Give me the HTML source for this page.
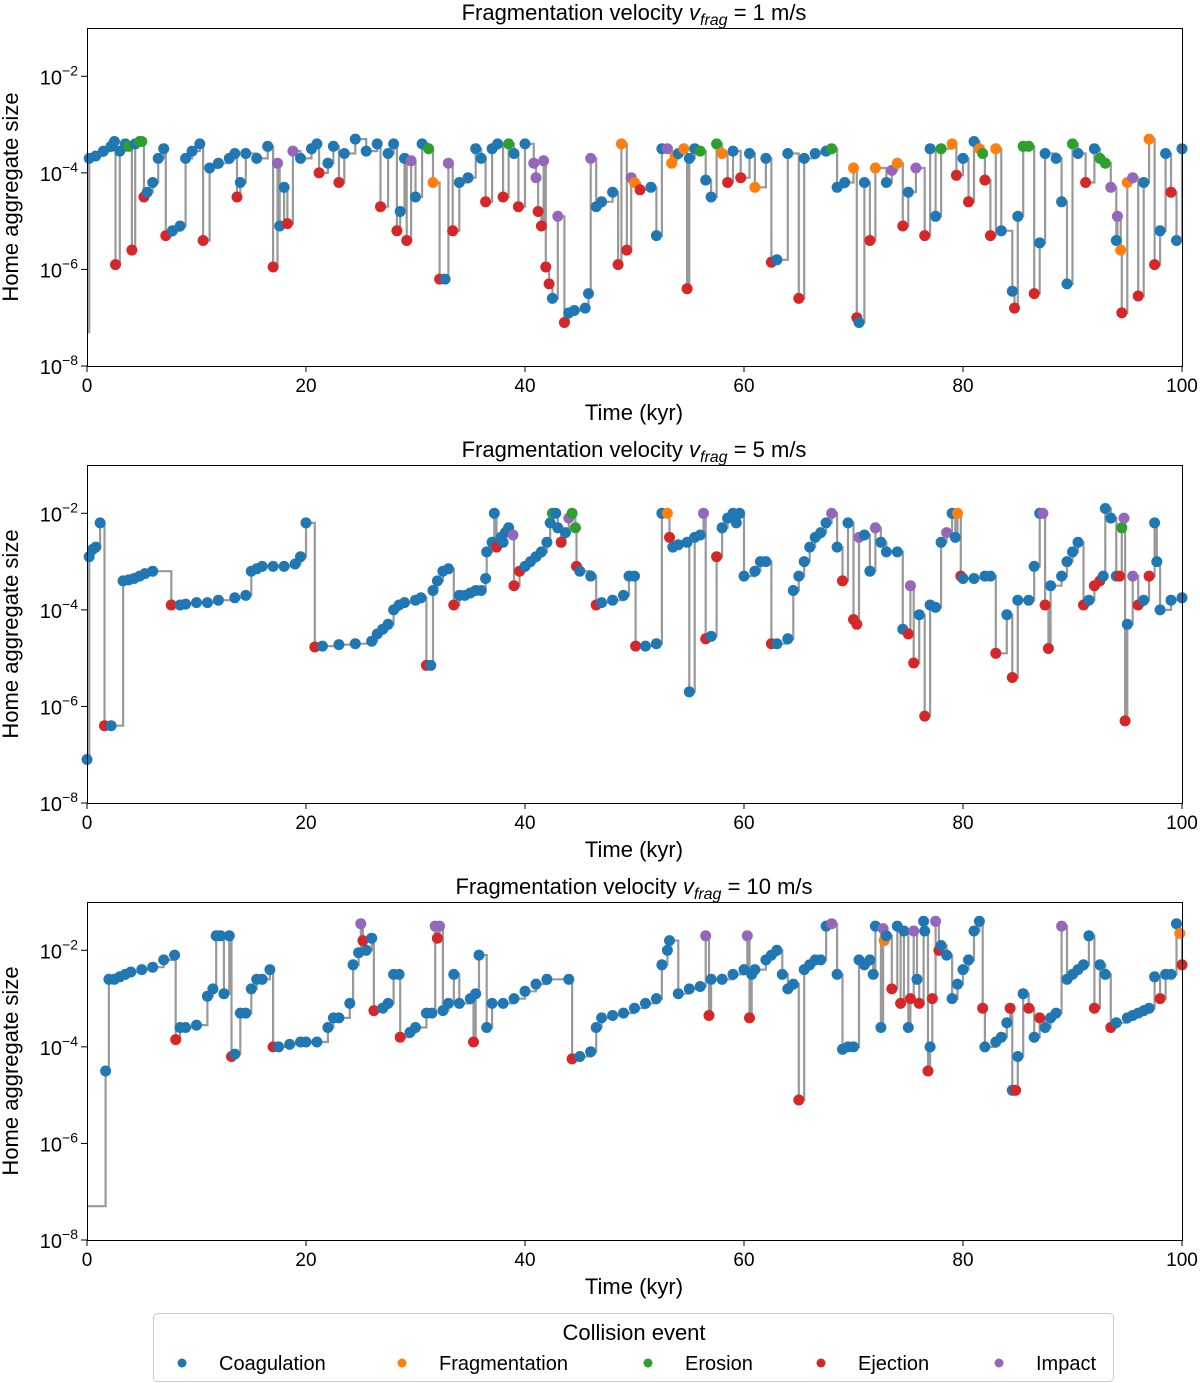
<!DOCTYPE html>
<html><head><meta charset="utf-8"><style>
body{margin:0;background:#fff;}
svg{display:block;font-family:"Liberation Sans","DejaVu Sans",sans-serif;}
</style></head><body>
<svg id="chart" width="1200" height="1383" viewBox="0 0 1200 1383" xmlns="http://www.w3.org/2000/svg">
<g id="legend">
<rect x="153.5" y="1313.5" width="960" height="68" rx="4" fill="#fff" stroke="#ccc" stroke-width="1"/>
<text x="634" y="1340" text-anchor="middle" font-size="22">Collision event</text>
<g><circle cx="182" cy="1363" r="4.5" fill="#1f77b4"/><text x="219" y="1370" font-size="20">Coagulation</text></g>
<g><circle cx="402" cy="1363" r="4.5" fill="#ff7f0e"/><text x="439" y="1370" font-size="20">Fragmentation</text></g>
<g><circle cx="648" cy="1363" r="4.5" fill="#2ca02c"/><text x="685" y="1370" font-size="20">Erosion</text></g>
<g><circle cx="821" cy="1363" r="4.5" fill="#d62728"/><text x="858" y="1370" font-size="20">Ejection</text></g>
<g><circle cx="999" cy="1363" r="4.5" fill="#9467bd"/><text x="1036" y="1370" font-size="20">Impact</text></g>
</g>
</svg>
<script>
// each point: [time kyr, log10 size, event]  (n = start, c coag, f frag, e erosion, j ejection, i impact)
const titles1 = ["1", "5", "10"];
const xTicks = [0, 20, 40, 60, 80, 100];
const yTickExps = [-2, -4, -6, -8];
const yMinExp = -8, yMaxExp = -1;

const p1Points = [[0,-7.3,'n'],[0.2,-3.7,'c'],[0.8,-3.65,'c'],[1.5,-3.55,'c'],[2.2,-3.45,'c'],[2.5,-3.35,'c'],[2.6,-5.9,'j'],[3.0,-3.55,'c'],[3.5,-3.4,'c'],[3.8,-3.45,'e'],[4.1,-5.6,'j'],[4.4,-3.4,'c'],[4.8,-3.35,'e'],[5.0,-3.35,'e'],[5.2,-4.5,'j'],[5.5,-4.4,'c'],[6,-4.2,'c'],[6.5,-3.7,'c'],[7,-3.5,'c'],[7.2,-5.3,'j'],[7.8,-5.2,'c'],[8.5,-5.1,'c'],[9,-3.7,'c'],[9.6,-3.55,'c'],[10.3,-3.4,'c'],[10.6,-5.4,'j'],[11.2,-3.9,'c'],[12,-3.8,'c'],[13,-3.7,'c'],[13.5,-3.6,'c'],[13.7,-4.5,'j'],[14,-4.2,'c'],[14.5,-3.6,'c'],[15.5,-3.7,'c'],[16.5,-3.45,'c'],[17,-5.95,'j'],[17.4,-3.8,'i'],[17.6,-5.1,'c'],[18,-4.3,'c'],[18.3,-5.05,'j'],[18.8,-3.55,'i'],[19.5,-3.7,'c'],[20.5,-3.5,'c'],[21,-3.4,'c'],[21.2,-4,'j'],[22,-3.8,'c'],[22.5,-3.45,'c'],[23,-4.2,'j'],[23.5,-3.6,'c'],[24.5,-3.3,'c'],[25.5,-3.55,'c'],[26.5,-3.4,'c'],[26.8,-4.7,'j'],[27.5,-3.6,'c'],[28,-3.4,'c'],[28.3,-5.2,'j'],[28.6,-4.8,'c'],[29,-3.7,'c'],[29.2,-5.4,'j'],[29.6,-3.75,'i'],[30,-4.5,'c'],[30.6,-3.4,'c'],[31.2,-3.5,'e'],[31.6,-4.2,'f'],[32.2,-6.2,'j'],[32.7,-6.2,'c'],[33,-3.8,'i'],[33.4,-5.2,'j'],[34,-4.2,'c'],[34.8,-4.1,'c'],[35.5,-3.5,'c'],[36,-3.7,'c'],[36.4,-4.6,'j'],[37,-3.5,'c'],[37.5,-3.4,'c'],[38,-4.5,'j'],[38.5,-3.4,'e'],[39,-3.6,'c'],[39.4,-4.7,'j'],[40,-3.4,'c'],[40.8,-3.8,'i'],[41,-4.1,'i'],[41.2,-4.8,'j'],[41.5,-5.1,'j'],[41.7,-3.75,'i'],[41.9,-5.95,'j'],[42.2,-6.3,'j'],[42.5,-6.6,'c'],[43,-4.9,'i'],[43.6,-7.1,'j'],[44,-6.9,'c'],[44.5,-6.85,'c'],[45.5,-6.8,'c'],[45.8,-6.5,'c'],[46,-3.7,'i'],[46.5,-4.7,'c'],[47,-4.6,'c'],[48,-4.4,'c'],[48.5,-5.9,'j'],[48.8,-3.4,'f'],[49.3,-5.6,'j'],[49.7,-4.1,'i'],[50,-4.2,'f'],[50.5,-4.35,'j'],[51.5,-4.3,'c'],[52,-5.3,'c'],[52.5,-3.5,'c'],[53,-3.5,'i'],[53.4,-3.8,'f'],[53.7,-3.65,'f'],[54,-3.6,'c'],[54.5,-3.5,'f'],[54.8,-6.4,'j'],[55,-3.7,'c'],[55.5,-3.5,'c'],[56,-3.55,'e'],[56.5,-4.15,'c'],[57,-4.5,'c'],[57.5,-3.4,'e'],[58,-3.6,'f'],[58.5,-4.2,'j'],[59,-3.55,'c'],[59.7,-4.1,'j'],[60.5,-3.6,'c'],[61,-4.3,'f'],[62,-3.7,'c'],[62.5,-5.85,'j'],[63,-5.8,'c'],[64,-3.6,'c'],[65,-6.6,'j'],[65.5,-3.7,'c'],[66.5,-3.6,'c'],[67.5,-3.55,'c'],[68,-3.5,'e'],[68.5,-4.3,'c'],[69.2,-4.2,'c'],[70,-3.9,'f'],[70.3,-7.0,'j'],[70.5,-7.1,'c'],[71,-4.2,'c'],[71.5,-5.4,'j'],[72,-3.9,'f'],[73,-4.2,'c'],[73.5,-3.95,'i'],[74,-3.8,'f'],[74.5,-5.1,'j'],[75,-4.4,'c'],[75.7,-3.9,'i'],[76.5,-5.3,'j'],[77,-3.5,'c'],[77.5,-4.9,'c'],[78,-3.5,'e'],[79,-3.4,'f'],[79.4,-4.05,'j'],[80,-3.7,'c'],[80.5,-4.6,'j'],[81,-3.35,'c'],[81.5,-3.5,'f'],[81.8,-3.6,'e'],[82,-4.15,'j'],[82.5,-5.3,'j'],[83,-3.5,'f'],[83.5,-5.2,'c'],[84.5,-6.45,'c'],[84.7,-6.8,'j'],[85,-4.9,'c'],[85.5,-3.45,'e'],[86,-3.45,'e'],[86.5,-6.5,'j'],[87,-5.45,'c'],[87.5,-3.6,'c'],[88.5,-3.7,'c'],[89,-4.6,'c'],[89.5,-6.3,'c'],[90,-3.4,'e'],[90.5,-3.6,'c'],[91.2,-4.2,'j'],[92,-3.5,'c'],[92.5,-3.7,'e'],[93,-3.8,'e'],[93.5,-4.3,'i'],[94,-5.4,'c'],[94.1,-4.9,'i'],[94.4,-5.6,'f'],[94.5,-6.9,'j'],[95,-4.2,'f'],[95.5,-4.1,'i'],[96,-6.55,'j'],[96.5,-4.2,'c'],[97,-3.3,'f'],[97.5,-5.9,'j'],[98,-5.2,'c'],[98.5,-3.6,'c'],[99,-4.4,'j'],[99.5,-5.4,'c'],[100,-3.5,'c']];

const p2Points = [[0,-7.1,'c'],[0.2,-2.9,'c'],[0.5,-2.75,'c'],[0.8,-2.7,'c'],[1.2,-2.2,'c'],[1.6,-6.4,'j'],[2.2,-6.4,'c'],[3.3,-3.4,'c'],[3.8,-3.38,'c'],[4.3,-3.35,'c'],[4.8,-3.3,'c'],[5.3,-3.25,'c'],[6,-3.2,'c'],[7.7,-3.9,'j'],[8.5,-3.9,'c'],[9,-3.88,'c'],[10,-3.85,'c'],[11,-3.85,'c'],[12,-3.8,'c'],[13.5,-3.75,'c'],[14.5,-3.7,'c'],[15,-3.2,'c'],[15.5,-3.15,'c'],[16,-3.1,'c'],[17,-3.1,'c'],[18,-3.1,'c'],[19,-3.05,'c'],[19.5,-2.9,'c'],[20,-2.2,'c'],[20.8,-4.77,'j'],[21.5,-4.75,'c'],[23,-4.72,'c'],[24.5,-4.7,'c'],[26,-4.65,'c'],[26.5,-4.5,'c'],[27,-4.4,'c'],[27.5,-4.3,'c'],[28,-4.0,'c'],[28.5,-3.9,'c'],[29,-3.85,'c'],[30,-3.8,'c'],[30.5,-3.75,'c'],[31,-5.15,'j'],[31.4,-5.15,'c'],[31.6,-3.6,'c'],[32,-3.4,'c'],[32.5,-3.2,'c'],[33,-3.15,'c'],[33.5,-3.9,'j'],[34,-3.7,'c'],[34.5,-3.7,'c'],[35,-3.65,'c'],[35.5,-3.6,'c'],[36,-3.6,'c'],[36.4,-3.35,'c'],[36.5,-2.8,'c'],[37,-2.6,'c'],[37.2,-2.0,'c'],[37.4,-2.7,'j'],[37.8,-2.5,'c'],[38,-2.6,'c'],[38.2,-2.4,'c'],[38.5,-2.3,'c'],[38.9,-2.45,'i'],[39,-3.5,'j'],[39.5,-3.2,'j'],[40,-3.1,'c'],[40.5,-3.0,'c'],[41,-2.9,'c'],[41.5,-2.8,'c'],[42,-2.6,'c'],[42.3,-2.2,'c'],[42.5,-2.0,'e'],[42.8,-2.0,'c'],[43,-2.3,'c'],[43.3,-2.6,'j'],[43.7,-2.4,'c'],[44,-2.1,'i'],[44.3,-2.0,'e'],[44.6,-2.3,'e'],[44.7,-3.1,'j'],[45,-3.2,'c'],[46,-3.3,'c'],[46.5,-3.9,'j'],[47,-3.85,'c'],[48,-3.8,'c'],[49,-3.7,'c'],[49.5,-3.3,'c'],[50,-3.3,'c'],[50.1,-4.75,'j'],[51,-4.75,'c'],[52,-4.7,'c'],[52.5,-2.0,'c'],[53,-2.0,'f'],[53.2,-2.5,'j'],[53.5,-2.7,'c'],[54,-2.65,'c'],[54.8,-2.6,'c'],[55,-5.7,'c'],[55.5,-2.5,'c'],[56,-2.45,'c'],[56.3,-2.0,'i'],[56.5,-4.6,'j'],[57,-4.55,'c'],[57.5,-2.9,'j'],[58,-2.3,'c'],[58.5,-2.1,'c'],[59,-2.0,'c'],[59.3,-2.2,'c'],[59.6,-2.0,'c'],[60,-3.3,'c'],[61,-3.2,'c'],[61.5,-3.0,'c'],[62,-3.0,'c'],[62.5,-4.7,'j'],[63,-4.7,'c'],[64,-4.6,'c'],[64.5,-3.6,'c'],[65,-3.3,'c'],[65.5,-3.0,'c'],[66,-2.7,'c'],[66.5,-2.5,'c'],[67,-2.4,'c'],[67.5,-2.2,'c'],[68,-2.0,'i'],[68.5,-2.7,'c'],[69,-3.4,'j'],[69.5,-2.2,'c'],[70,-4.2,'j'],[70.3,-4.3,'j'],[70.5,-2.5,'i'],[71,-2.45,'c'],[71.5,-3.2,'c'],[72,-2.3,'i'],[72.5,-2.6,'c'],[73,-2.8,'c'],[74,-2.8,'c'],[74.5,-4.4,'c'],[75,-4.5,'j'],[75.2,-3.5,'i'],[75.5,-5.1,'j'],[76,-4.1,'c'],[76.5,-6.2,'j'],[77,-3.9,'c'],[77.5,-3.95,'c'],[78,-2.6,'c'],[78.5,-2.4,'i'],[79,-2.0,'c'],[79.3,-2.5,'c'],[79.5,-2.0,'f'],[79.8,-3.3,'j'],[80,-3.35,'c'],[81,-3.35,'c'],[82,-3.3,'c'],[82.5,-3.3,'c'],[83,-4.9,'j'],[84,-4.1,'c'],[84.5,-5.4,'j'],[85,-3.8,'c'],[86,-3.8,'c'],[86.5,-3.1,'c'],[87,-2.0,'c'],[87.3,-2.0,'i'],[87.5,-3.9,'j'],[87.8,-4.8,'j'],[88,-3.5,'c'],[89,-3.3,'c'],[89.5,-3.0,'c'],[90,-2.8,'c'],[90.5,-2.6,'c'],[91,-3.9,'j'],[91.5,-3.8,'c'],[92,-3.5,'j'],[92.5,-3.4,'j'],[92.8,-3.3,'c'],[93,-1.9,'c'],[93.5,-2.1,'c'],[94,-3.3,'c'],[94.3,-3.3,'j'],[94.5,-2.3,'e'],[94.7,-2.1,'i'],[94.8,-6.3,'j'],[95,-4.3,'c'],[95.5,-3.3,'i'],[96,-3.9,'j'],[96.5,-3.8,'c'],[97,-3.3,'j'],[97.5,-2.2,'c'],[97.7,-3.0,'c'],[98,-4.0,'c'],[99,-3.8,'c'],[100,-3.75,'c']];

const p3Points = [[0,-7.3,'n'],[1.7,-4.5,'c'],[2,-2.6,'c'],[2.5,-2.6,'c'],[3,-2.55,'c'],[3.5,-2.5,'c'],[4,-2.45,'c'],[5,-2.4,'c'],[6,-2.35,'c'],[7,-2.2,'c'],[8,-2.1,'c'],[8.1,-3.85,'j'],[8.5,-3.6,'c'],[9,-3.6,'c'],[10,-3.55,'c'],[11,-2.95,'c'],[11.5,-2.8,'c'],[11.8,-1.7,'c'],[12.2,-1.7,'c'],[12.5,-2.9,'c'],[13,-1.7,'c'],[13.2,-4.2,'j'],[13.5,-4.15,'c'],[14,-3.3,'c'],[14.5,-3.3,'c'],[15,-2.8,'c'],[15.5,-2.6,'c'],[16,-2.6,'c'],[16.7,-2.4,'c'],[17,-4.0,'j'],[17.5,-4.0,'c'],[18.5,-3.95,'c'],[19.5,-3.9,'c'],[20,-3.9,'c'],[21,-3.9,'c'],[22,-3.6,'c'],[22.5,-3.4,'c'],[23,-3.4,'c'],[24,-3.1,'c'],[24.3,-2.3,'c'],[24.8,-2.05,'c'],[25,-1.45,'i'],[25.2,-1.8,'j'],[25.5,-2.0,'c'],[26,-1.75,'c'],[26.2,-3.25,'j'],[27,-3.2,'c'],[27.5,-3.1,'c'],[28,-2.5,'c'],[28.5,-2.5,'c'],[28.6,-3.8,'j'],[29.5,-3.7,'c'],[30,-3.6,'c'],[31,-3.3,'c'],[31.5,-3.3,'c'],[31.8,-1.5,'i'],[32,-1.75,'j'],[32.2,-1.5,'i'],[32.5,-3.25,'c'],[33,-3.1,'c'],[33.5,-2.5,'c'],[34,-3.1,'c'],[35,-3.0,'c'],[35.3,-3.9,'j'],[35.5,-2.9,'c'],[35.8,-2.1,'c'],[36.5,-3.6,'c'],[37,-3.1,'c'],[38,-3.1,'c'],[39,-3.0,'c'],[40,-2.85,'c'],[41,-2.7,'c'],[42,-2.6,'c'],[44,-2.6,'c'],[44.3,-4.25,'j'],[45,-4.2,'c'],[46,-4.1,'c'],[46.5,-3.6,'c'],[47,-3.4,'c'],[48,-3.35,'c'],[49,-3.3,'c'],[50,-3.2,'c'],[51,-3.1,'c'],[52,-3.0,'c'],[52.5,-2.3,'c'],[53,-2.0,'c'],[53.2,-1.8,'c'],[54,-2.9,'c'],[55,-2.8,'c'],[56,-2.75,'c'],[56.5,-1.7,'i'],[56.8,-3.35,'j'],[57,-2.6,'c'],[58,-2.6,'c'],[59,-2.5,'c'],[60,-2.4,'c'],[60.3,-1.7,'i'],[60.5,-3.4,'j'],[60.7,-2.5,'c'],[61,-2.4,'c'],[62,-2.2,'c'],[62.5,-2.1,'c'],[63,-2.0,'c'],[63.5,-2.5,'c'],[64,-2.8,'c'],[64.5,-2.7,'c'],[65,-5.1,'j'],[65.5,-2.4,'c'],[66,-2.3,'c'],[66.5,-2.2,'c'],[67,-2.2,'c'],[67.5,-1.5,'c'],[68,-1.45,'i'],[68.5,-2.5,'c'],[69,-4.05,'c'],[69.5,-4.0,'c'],[70,-4.0,'c'],[70.5,-2.2,'c'],[71,-2.3,'c'],[71.5,-2.2,'c'],[71.8,-2.5,'c'],[72,-1.5,'c'],[72.5,-3.6,'c'],[72.7,-1.55,'i'],[72.8,-1.8,'f'],[73,-1.7,'c'],[73.5,-2.8,'j'],[74,-1.5,'c'],[74.3,-3.1,'j'],[74.6,-1.6,'c'],[75,-3.6,'c'],[75.2,-3.0,'j'],[75.5,-1.6,'i'],[75.8,-2.6,'c'],[76,-3.1,'j'],[76.4,-1.4,'c'],[76.5,-1.6,'c'],[76.8,-4.5,'j'],[77,-4.0,'c'],[77.2,-3.0,'j'],[77.5,-1.4,'i'],[77.8,-2.0,'j'],[78,-1.9,'c'],[78.5,-2.1,'c'],[79,-3.0,'c'],[79.5,-2.7,'c'],[80,-2.4,'c'],[80.5,-2.2,'c'],[81,-1.6,'c'],[81.5,-1.4,'c'],[81.8,-3.2,'j'],[82,-4.0,'c'],[83,-3.9,'c'],[83.5,-3.8,'c'],[84,-3.5,'c'],[84.3,-3.2,'j'],[84.5,-4.9,'c'],[84.8,-4.9,'j'],[85,-4.2,'c'],[85.5,-2.9,'c'],[86,-3.2,'j'],[86.5,-3.8,'c'],[87,-3.4,'j'],[87.5,-3.6,'c'],[88,-3.4,'c'],[88.5,-3.3,'c'],[89,-1.5,'i'],[89.5,-2.6,'c'],[90,-2.5,'c'],[90.5,-2.4,'c'],[91,-2.3,'c'],[91.5,-1.7,'c'],[92,-3.2,'j'],[92.5,-2.3,'c'],[93,-2.5,'c'],[93.5,-3.6,'j'],[94,-3.5,'c'],[95,-3.4,'c'],[95.5,-3.35,'c'],[96,-3.3,'c'],[96.5,-3.25,'c'],[97,-3.2,'c'],[97.5,-2.55,'c'],[98,-3.0,'j'],[98.5,-2.5,'c'],[99,-2.5,'c'],[99.5,-1.45,'c'],[99.8,-1.65,'f'],[100,-2.3,'j']];

const panelPoints = [p1Points, p2Points, p3Points];

const NS = "http://www.w3.org/2000/svg";
const svg = document.getElementById("chart");
const colors = {c:"#1f77b4", f:"#ff7f0e", e:"#2ca02c", j:"#d62728", i:"#9467bd"};
const evNames = {c:"coagulation", f:"fragmentation", e:"erosion", j:"ejection", i:"impact"};
const X0 = 87, X1 = 1182;
const panelTops = [28, 465, 902];
const PH = 338;

function mk(tag, attrs, parent) {
  const el = document.createElementNS(NS, tag);
  for (const k in attrs) el.setAttribute(k, attrs[k]);
  parent.appendChild(el);
  return el;
}

for (let p = 0; p < 3; p++) {
  const top = panelTops[p], bot = top + PH;
  const xs = t => X0 + (t / 100) * (X1 - X0);
  const ys = l => bot - (l - yMinExp) / (yMaxExp - yMinExp) * PH;
  const g = mk("g", {}, svg);
  
  

  const title = mk("text", {x: 634, y: top - 8, "text-anchor": "middle", "font-size": 22}, g);
  
  
  title.innerHTML = 'Fragmentation velocity <tspan font-style="italic">v</tspan><tspan font-style="italic" font-size="16" dy="5">frag</tspan><tspan dy="-5"> = ' + titles1[p] + ' m/s</tspan>';

  const clip = mk("clipPath", {id: "clip" + p}, svg);
  mk("rect", {x: X0, y: top, width: X1 - X0, height: PH}, clip);

  const P = panelPoints[p];
  let d = "M" + xs(P[0][0]) + "," + ys(P[0][1]);
  for (let k = 1; k < P.length; k++) d += "H" + xs(P[k][0]).toFixed(1) + "V" + ys(P[k][1]).toFixed(1);
  const line = mk("path", {d: d, fill: "none", stroke: "#999", "stroke-width": 2.2, "clip-path": "url(#clip" + p + ")"}, g);
  
  

  for (let k = 0; k < P.length; k++) {
    const ev = P[k][2];
    if (!colors[ev]) continue;
    const c = mk("circle", {cx: xs(P[k][0]).toFixed(1), cy: ys(P[k][1]).toFixed(1), r: 5.5, fill: colors[ev]}, g);
    
    
  }

  const frame = mk("rect", {x: X0 + 0.5, y: top + 0.5, width: X1 - X0, height: PH, fill: "none", stroke: "#000", "stroke-width": 1}, g);
  
  

  xTicks.forEach(v => {
    const x = xs(v);
    mk("line", {x1: x, x2: x, y1: bot, y2: bot + 6, stroke: "#000"}, g);
    const t = mk("text", {x: x, y: bot + 26, "text-anchor": "middle", "font-size": 19}, g);
    
    
    t.textContent = v;
  });
  yTickExps.forEach(v => {
    const y = ys(v);
    mk("line", {x1: X0 - 6, x2: X0, y1: y, y2: y, stroke: "#000"}, g);
    const t = mk("text", {x: X0 - 9, y: y + 8, "text-anchor": "end", "font-size": 20}, g);
    
    
    t.innerHTML = '10<tspan font-size="14" dy="-9">−' + (-v) + '</tspan>';
  });
  const xl = mk("text", {x: 634, y: bot + 54, "text-anchor": "middle", "font-size": 22}, g);
  
  
  xl.textContent = "Time (kyr)";
  const yl = mk("text", {x: 0, y: 0, "text-anchor": "middle", "font-size": 22, transform: "translate(18," + (top + PH / 2) + ") rotate(-90)"}, g);
  
  
  yl.textContent = "Home aggregate size";
}
</script>
</body></html>
